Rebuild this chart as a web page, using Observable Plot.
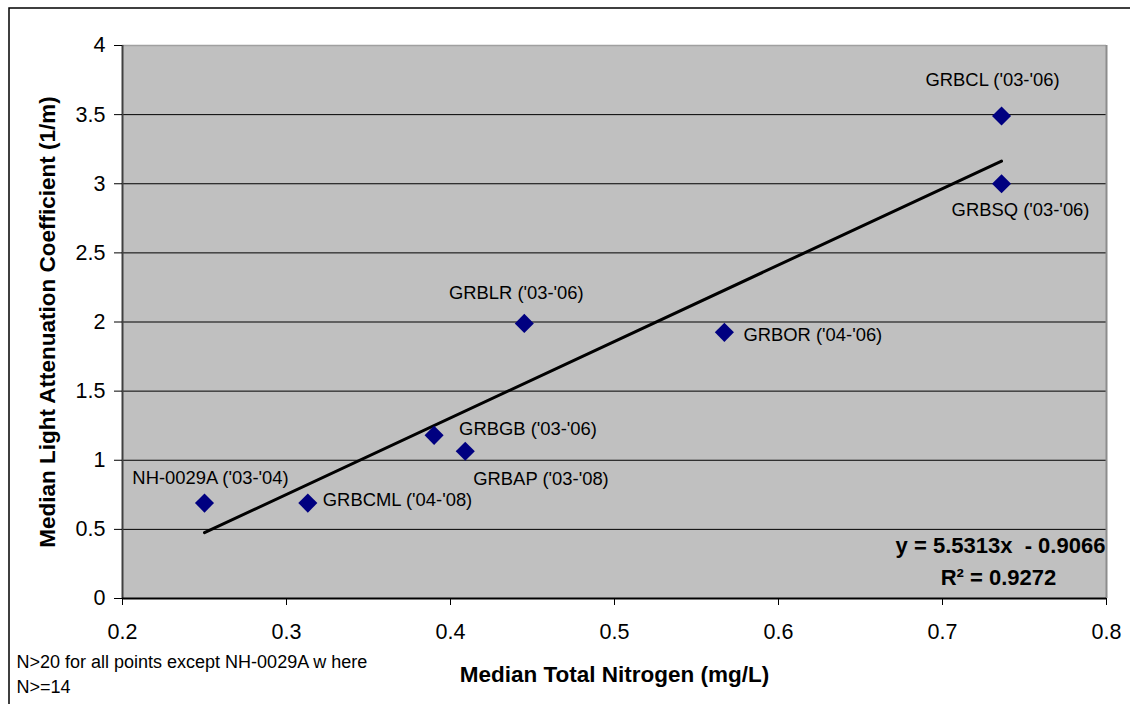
<!DOCTYPE html>
<html><head><meta charset="utf-8">
<script src="https://cdn.jsdelivr.net/npm/d3@7"></script>
<script src="https://cdn.jsdelivr.net/npm/@observablehq/plot@0.6"></script>
<style>
  html,body{margin:0;padding:0;background:#fff;}
  #chart svg{display:block;}
</style>
</head><body><div id="chart"></div>
<script>
// ---- data ----
const sites = ["NH-0029A", "GRBCML", "GRBGB", "GRBAP", "GRBLR", "GRBOR", "GRBCL", "GRBSQ"];
const periods = ["'03-'04", "'04-'08", "'03-'06", "'03-'08", "'03-'06", "'04-'06", "'03-'06", "'03-'06"];
const nitrogen = [0.250, 0.313, 0.390, 0.409, 0.445, 0.567, 0.736, 0.736];
const attenuation = [0.69, 0.69, 1.18, 1.065, 1.99, 1.925, 3.49, 3.0];
const xTicks = [0.2, 0.3, 0.4, 0.5, 0.6, 0.7, 0.8];
const yTicks = [0, 0.5, 1, 1.5, 2, 2.5, 3, 3.5, 4];
const trendSlope = 5.5313;
const trendIntercept = -0.9066;
const trendR2 = "0.9272";
const xTitle = "Median Total Nitrogen (mg/L)";
const yTitle = "Median Light Attenuation Coefficient (1/m)";
const footnoteLines = ["N>20 for all points except NH-0029A w here", "N>=14"];

// ---- derived tables ----
const points = sites.map((s, i) => ({site: s, x: nitrogen[i], y: attenuation[i], label: `${s} (${periods[i]})`}));
const trend = [d3.min(nitrogen), d3.max(nitrogen)].map(x => ({x, y: trendSlope * x + trendIntercept}));
const eqLine1 = `y = ${trendSlope}x  - ${Math.abs(trendIntercept)}`;
const eqLine2 = `R² = ${trendR2}`;

// label placement (style, per site)
const placement = {
  "NH-0029A": {dx: 6, dy: -25, a: "middle"},
  "GRBCML": {dx: 15, dy: -3, a: "start"},
  "GRBGB": {dx: 25, dy: -6, a: "start"},
  "GRBAP": {dx: 8, dy: 28, a: "start"},
  "GRBLR": {dx: -8, dy: -30, a: "middle"},
  "GRBOR": {dx: 19, dy: 3, a: "start"},
  "GRBCL": {dx: -9, dy: -36, a: "middle"},
  "GRBSQ": {dx: 19, dy: 26, a: "middle"}
};

const font = "'Liberation Sans', Arial, Helvetica, sans-serif";

const labelMarks = sites.map(s => Plot.text(points.filter(d => d.site === s), {
  x: "x", y: "y", text: "label", dx: placement[s].dx, dy: placement[s].dy,
  textAnchor: placement[s].a, fontSize: 18.4, fill: "#000"
}));

const chart = Plot.plot({
  width: 1130,
  height: 704,
  marginLeft: 122,
  marginRight: 24,
  marginTop: 45,
  marginBottom: 106,
  style: {fontFamily: font, color: "#000", background: "#fff", overflow: "visible"},
  x: {domain: [0.2, 0.8]},
  y: {domain: [0, 4]},
  marks: [
    Plot.frame({fill: "#C0C0C0", stroke: null}),
    Plot.ruleY(yTicks.filter(v => v > 0 && v < 4), {stroke: "#000", strokeWidth: 1}),
    Plot.ruleY([4], {stroke: "#a0a0a0", strokeWidth: 1.5}),
    Plot.ruleX([0.8], {stroke: "#8c8c8c", strokeWidth: 2}),
    Plot.ruleX([0.2], {stroke: "#404040", strokeWidth: 2}),
    Plot.ruleY([0], {stroke: "#000", strokeWidth: 2}),
    Plot.axisX({ticks: xTicks, tickFormat: d => String(d), tickSize: 7, tickPadding: 18, fontSize: 21.5, label: null, stroke: "#000"}),
    Plot.axisY({ticks: yTicks, tickFormat: d => String(d), tickSize: 8, tickPadding: 9, fontSize: 21.5, label: null, stroke: "#000"}),
    Plot.line(trend, {x: "x", y: "y", stroke: "#000", strokeWidth: 3}),
    Plot.dot(points, {x: "x", y: "y", symbol: "diamond2", r: 8.6, fill: "#000080", stroke: null}),
    ...labelMarks,
    Plot.text([eqLine1], {frameAnchor: "bottom-right", dx: -106, dy: -53, lineAnchor: "middle", textAnchor: "middle", fontSize: 22, fontWeight: "bold", text: d => d, style: "white-space:pre"}),
    Plot.text([eqLine2], {frameAnchor: "bottom-right", dx: -108, dy: -21, lineAnchor: "middle", textAnchor: "middle", fontSize: 22, fontWeight: "bold", text: d => d}),
    Plot.text([xTitle], {frameAnchor: "bottom", dy: 76, lineAnchor: "middle", textAnchor: "middle", fontSize: 22.5, fontWeight: "bold", text: d => d, letterSpacing: 1}),
    Plot.text([yTitle], {frameAnchor: "left", dx: -75, rotate: -90, lineAnchor: "middle", textAnchor: "middle", fontSize: 22.5, fontWeight: "bold", text: d => d, letterSpacing: 0.6}),
    Plot.text([footnoteLines[0]], {frameAnchor: "bottom-left", dx: -106, dy: 64, lineAnchor: "middle", textAnchor: "start", fontSize: 18, letterSpacing: 0.3, text: d => d}),
    Plot.text([footnoteLines[1]], {frameAnchor: "bottom-left", dx: -106, dy: 89, lineAnchor: "middle", textAnchor: "start", fontSize: 18, letterSpacing: 0.3, text: d => d})
  ]
});

// outer chart-area border (top and left edges visible in the reference)
d3.select(chart).insert("rect", ":first-child")
  .attr("x", 9).attr("y", 8).attr("width", 1200).attr("height", 1000)
  .attr("fill", "none").attr("stroke", "#000").attr("stroke-width", 1.5);

document.getElementById("chart").appendChild(chart);
</script>
</body></html>
